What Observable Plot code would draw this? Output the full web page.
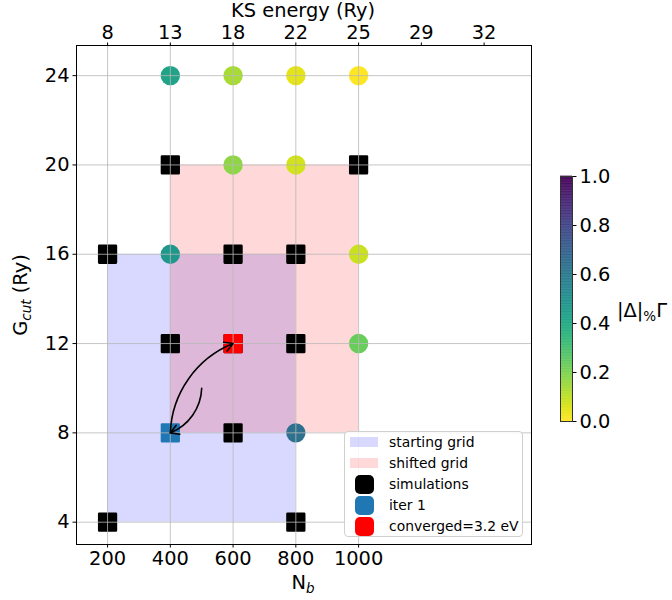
<!DOCTYPE html>
<html>
<head>
<meta charset="utf-8">
<script src="https://cdn.jsdelivr.net/npm/d3@7"></script>
<script src="https://cdn.jsdelivr.net/npm/@observablehq/plot@0.6"></script>
<style>
  body { margin: 0; background: white; font-family: "DejaVu Sans", sans-serif; }
  #wrap { position: relative; width: 672px; height: 600px; }
  .lbl { position: absolute; font-size: 19.4px; line-height: 1; color: #000; white-space: nowrap; }
  #legend { position: absolute; left: 344px; top: 431px; width: 179px; height: 106px;
    border: 1px solid #d0d0d0; border-radius: 4px; background: rgba(255,255,255,0.85);
    font-size: 13.9px; box-sizing: border-box; }
  .sw { position: absolute; }
  .txt { position: absolute; left: 44px; white-space: nowrap; line-height: 21px; }
</style>
</head>
<body>
<div id="wrap"></div>
<script>
// ---- data ----
const nbTicks = [200, 400, 600, 800, 1000];
const ksTickPos = [200, 400, 600, 800, 1000, 1200, 1400];
const ksTickLabels = ["8", "13", "18", "22", "25", "29", "32"];
const gTicks = [4, 8, 12, 16, 20, 24];

// colored (error-valued) simulations
const circX = [400, 600, 800, 1000, 600, 800, 400, 1000, 1000, 800];
const circY = [24, 24, 24, 24, 20, 20, 16, 16, 12, 8];
const circV = [0.42, 0.13, 0.04, 0.0, 0.17, 0.07, 0.47, 0.08, 0.23, 0.63];

// black squares (simulations)
const simX = [400, 1000, 200, 600, 800, 400, 800, 600, 600, 200, 800];
const simY = [20, 20, 16, 16, 16, 12, 12, 12, 8, 4, 4];

const iterX = [400], iterY = [8];
const convX = [600], convY = [12];

// grids (rectangles)
const gridNames = ["starting grid", "shifted grid"];
const gridX1 = [200, 400], gridX2 = [800, 1000];
const gridY1 = [4, 8], gridY2 = [16, 20];
const gridFill = ["blue", "red"];

// arrows
const arrX1 = [500, 400], arrY1 = [10, 8];
const arrX2 = [400, 600], arrY2 = [8, 12];

const legendLabels = ["starting grid", "shifted grid", "simulations", "iter 1", "converged=3.2 eV"];
const cbTicks = [0, 0.2, 0.4, 0.6, 0.8, 1.0];

// ---- tables ----
const circles = circX.map((x, i) => ({x, y: circY[i], v: circV[i]}));
const sims = simX.map((x, i) => ({x, y: simY[i]}));
const grids = gridNames.map((n, i) => ({n, x1: gridX1[i], x2: gridX2[i], y1: gridY1[i], y2: gridY2[i], f: gridFill[i]}));
const arrows = arrX1.map((x1, i) => ({x1, y1: arrY1[i], x2: arrX2[i], y2: arrY2[i]}));

const gridStroke = "#b8b8b8";

const main = Plot.plot({
  width: 672, height: 600,
  marginLeft: 76, marginRight: 141, marginTop: 45, marginBottom: 56,
  style: {fontFamily: "DejaVu Sans", fontSize: "19.4px", color: "#000", background: "white", overflow: "visible"},
  x: {domain: [101, 1551]},
  y: {domain: [3.0, 25.35]},
  color: {type: "linear", scheme: "viridis", reverse: true, domain: [0, 1]},
  marks: [
    Plot.rect(grids, {x1: "x1", x2: "x2", y1: "y1", y2: "y2", fill: d => d.f, fillOpacity: 0.15}),
    Plot.dot(circles, {x: "x", y: "y", fill: "v", r: 9.7, symbol: "circle"}),
    Plot.dot(sims, {x: "x", y: "y", fill: "black", stroke: "black", strokeWidth: 2.6, strokeLinejoin: "round", r: 9.4, symbol: "square"}),
    Plot.dot(iterX.map((x, i) => ({x, y: iterY[i]})), {x: "x", y: "y", fill: "#1f77b4", stroke: "#1f77b4", strokeWidth: 2.6, strokeLinejoin: "round", r: 9.4, symbol: "square"}),
    Plot.dot(convX.map((x, i) => ({x, y: convY[i]})), {x: "x", y: "y", fill: "red", stroke: "red", strokeWidth: 2.6, strokeLinejoin: "round", r: 9.4, symbol: "square"}),
    Plot.ruleX(nbTicks, {stroke: gridStroke, strokeWidth: 1, strokeOpacity: 0.8}),
    Plot.ruleY(gTicks, {stroke: gridStroke, strokeWidth: 1, strokeOpacity: 0.8}),
    Plot.arrow(arrows, {x1: "x1", y1: "y1", x2: "x2", y2: "y2", bend: 33, stroke: "black", strokeWidth: 1.6, headLength: 9}),
    Plot.frame({stroke: "#000", strokeWidth: 1}),
    Plot.axisX({ticks: nbTicks, tickSize: 3.5, tickPadding: 3.5, label: null, fontSize: 19.4, tickFormat: d => String(d)}),
    Plot.axisX({anchor: "top", ticks: ksTickPos, tickSize: 3.5, tickPadding: 3.5, label: null, fontSize: 19.4,
      tickFormat: d => ksTickLabels[ksTickPos.indexOf(d)]}),
    Plot.axisY({ticks: gTicks, tickSize: 3.5, tickPadding: 3.5, label: null, fontSize: 19.4})
  ]
});

const wrap = document.getElementById("wrap");
main.style.position = "absolute";
main.style.left = "0px";
main.style.top = "0px";
wrap.appendChild(main);

// colorbar
const step = 0.0025;
const bands = d3.range(0, 1, step).map(v => ({v}));
const cb = Plot.plot({
  width: 132, height: 280,
  marginLeft: 20, marginRight: 100, marginTop: 16, marginBottom: 19,
  style: {fontFamily: "DejaVu Sans", fontSize: "19.4px", color: "#000", background: "transparent", overflow: "visible"},
  x: {domain: [0, 1], axis: null},
  y: {domain: [0, 1]},
  color: {type: "linear", scheme: "viridis", reverse: true, domain: [0, 1]},
  marks: [
    Plot.rect(bands, {x1: 0, x2: 1, y1: "v", y2: d => d.v + step * 1.6, fill: "v"}),
    Plot.frame({stroke: "#333", strokeWidth: 1}),
    Plot.axisY({anchor: "right", ticks: cbTicks, tickSize: 3.5, tickPadding: 3.5, tickFormat: d3.format(".1f"), label: null, fontSize: 19.4})
  ]
});
cb.style.position = "absolute";
cb.style.left = "540px";
cb.style.top = "160px";
wrap.appendChild(cb);

// axis labels (HTML for sub/superscripts)
function addLabel(html, css) {
  const d = document.createElement("div");
  d.className = "lbl";
  d.innerHTML = html;
  Object.assign(d.style, css);
  wrap.appendChild(d);
  return d;
}
addLabel("KS energy (Ry)", {left: "303px", top: "11px", transform: "translate(-50%,-50%)"});
addLabel("N<sub style='font-size:13.5px;font-style:italic;vertical-align:-4px'>b</sub>", {left: "303px", top: "584px", transform: "translate(-50%,-50%)"});
addLabel("G<sub style='font-size:13.5px;font-style:italic;vertical-align:-4px'>cut</sub> (Ry)", {left: "22px", top: "295px", transform: "translate(-50%,-50%) rotate(-90deg)"});
addLabel("|Δ|<sub style='font-size:13.5px;vertical-align:-4px'>%</sub>Γ", {left: "617px", top: "312px", transform: "translate(0,-50%)"});

// legend
const leg = document.createElement("div");
leg.id = "legend";
const swatches = [
  {w: 28, h: 10, c: "rgba(0,0,255,0.15)", r: 0},
  {w: 28, h: 10, c: "rgba(255,0,0,0.15)", r: 0},
  {w: 19, h: 19, c: "black", r: 5},
  {w: 19, h: 19, c: "#1f77b4", r: 5},
  {w: 19, h: 19, c: "red", r: 5}
];
legendLabels.forEach((t, i) => {
  const cy = 10 + i * 21;
  const s = swatches[i];
  const sw = document.createElement("div");
  sw.className = "sw";
  Object.assign(sw.style, {left: (19 - s.w / 2) + "px", top: (cy - s.h / 2) + "px", width: s.w + "px", height: s.h + "px", background: s.c, borderRadius: s.r + "px"});
  leg.appendChild(sw);
  const tx = document.createElement("div");
  tx.className = "txt";
  tx.textContent = t;
  tx.style.top = (cy - 10.5) + "px";
  leg.appendChild(tx);
});
wrap.appendChild(leg);
</script>
</body>
</html>
